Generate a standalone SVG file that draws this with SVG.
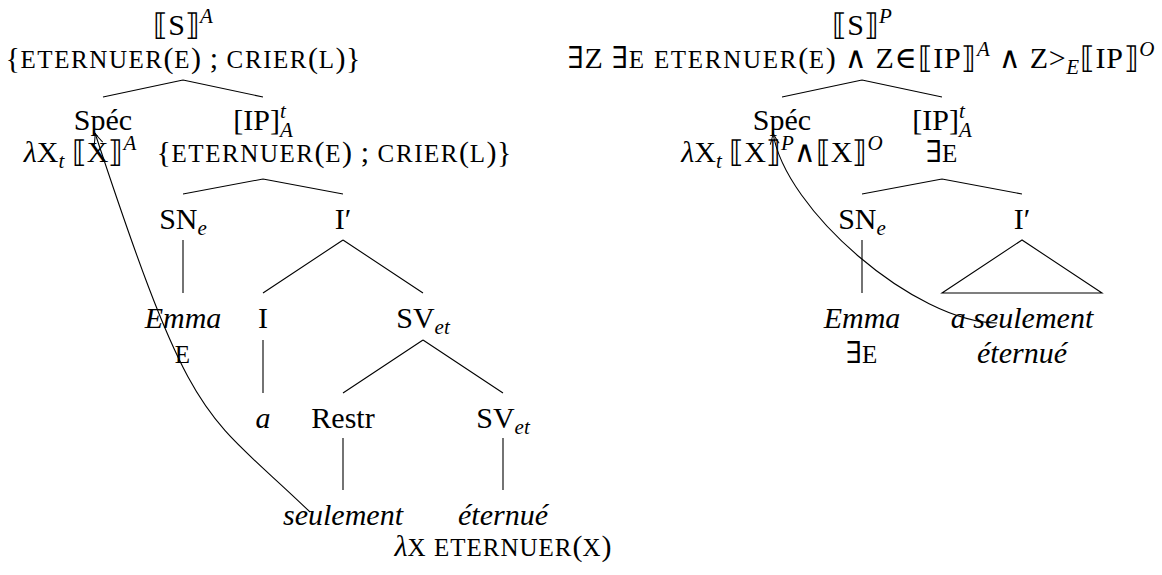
<svg xmlns="http://www.w3.org/2000/svg" width="1162" height="575" viewBox="0 0 1162 575">
<style>
text { font-family: "Liberation Serif", "DejaVu Serif", serif; font-size: 30px; fill: #000; text-anchor: middle; }
.i { font-style: italic; }
.sc { font-size: 25px; letter-spacing: 1px; }
.s { font-size: 21px; font-style: italic; letter-spacing: 0; }
.e { stroke: #000; stroke-width: 1.1; fill: none; }
.mv { stroke: #000; stroke-width: 1.1; fill: none; marker-end: url(#tip); }
</style>
<defs>
<marker id="tip" viewBox="-12 -6 14 12" refX="0" refY="0" markerWidth="14" markerHeight="12" markerUnits="userSpaceOnUse" orient="auto">
<path d="M-11,-4.5 Q-4,-1 0,0 Q-4,1 -11,4.5" fill="none" stroke="#000" stroke-width="1"/>
</marker>
</defs>

<g id="connectors">
<!-- left tree -->
<path class="e" d="M183,80 L103,97 M183,80 L263,97"/>
<path class="e" d="M263,179 L183,194 M263,179 L343,194"/>
<path class="e" d="M183,240 L183,293"/>
<path class="e" d="M343,240 L263,293 M343,240 L423,293"/>
<path class="e" d="M263,340 L263,393"/>
<path class="e" d="M423,340 L343,393 M423,340 L503,393"/>
<path class="e" d="M343,438 L343,490"/>
<path class="e" d="M503,438 L503,490"/>
<path class="mv" d="M310,512 C202,408 194,433 95,133"/>
<!-- right tree -->
<path class="e" d="M862,80 L782,97 M862,80 L942,97"/>
<path class="e" d="M942,179 L862,194 M942,179 L1022,194"/>
<path class="e" d="M862,240 L862,293"/>
<path class="e" d="M1022,240 L942,293 L1102,293 Z"/>
<path class="mv" d="M997,323 C915,322 785,210 773,133"/>
</g>

<!-- left tree nodes -->
<g id="L-S">
<text x="183" y="35">⟦S⟧<tspan class="s" dy="-12">A</tspan></text>
<text x="183" y="68" textLength="355" lengthAdjust="spacing">{<tspan class="sc">ETERNUER</tspan>(<tspan class="sc">E</tspan>) ; <tspan class="sc">CRIER</tspan>(<tspan class="sc">L</tspan>)}</text>
</g>
<g id="L-Spec">
<text x="103" y="130">Spéc</text>
<text x="80" y="162"><tspan class="i">λ</tspan>X<tspan class="s" dy="6">t</tspan><tspan dy="-6"> ⟦X⟧</tspan><tspan class="s" dy="-12">A</tspan></text>
</g>
<g id="L-IP">
<text x="263" y="130">[IP]<tspan class="s" dy="-12">t</tspan><tspan class="s" dx="-5.8" dy="19">A</tspan></text>
<text x="334" y="162" textLength="355" lengthAdjust="spacing">{<tspan class="sc">ETERNUER</tspan>(<tspan class="sc">E</tspan>) ; <tspan class="sc">CRIER</tspan>(<tspan class="sc">L</tspan>)}</text>
</g>
<g id="L-SN">
<text x="183" y="229">SN<tspan class="s" dy="6">e</tspan></text>
</g>
<g id="L-Ibar">
<text x="343" y="229">I′</text>
</g>
<g id="L-Emma">
<text class="i" x="183" y="328">Emma</text>
<text class="sc" x="183" y="363">E</text>
</g>
<g id="L-I">
<text x="263" y="328">I</text>
</g>
<g id="L-SVet">
<text x="423" y="328">SV<tspan class="s" dy="6">et</tspan></text>
</g>
<g id="L-a">
<text class="i" x="263" y="428">a</text>
</g>
<g id="L-Restr">
<text x="343" y="428">Restr</text>
</g>
<g id="L-SVet2">
<text x="503" y="428">SV<tspan class="s" dy="6">et</tspan></text>
</g>
<g id="L-seulement">
<text class="i" x="343" y="525">seulement</text>
</g>
<g id="L-eternue">
<text class="i" x="503" y="525">éternué</text>
<text x="503" y="556"><tspan class="i">λ</tspan><tspan class="sc">X</tspan> <tspan class="sc">ETERNUER</tspan>(<tspan class="sc">X</tspan>)</text>
</g>

<!-- right tree nodes -->
<g id="R-S">
<text x="862" y="35">⟦S⟧<tspan class="s" dy="-12">P</tspan></text>
<text x="861" y="68" textLength="587" lengthAdjust="spacing">∃Z ∃<tspan class="sc">E</tspan> <tspan class="sc">ETERNUER</tspan>(<tspan class="sc">E</tspan>) ∧ Z∈⟦IP⟧<tspan class="s" dy="-12">A</tspan><tspan dy="12"> ∧ Z&gt;</tspan><tspan class="s" dy="6">E</tspan><tspan dy="-6">⟦IP⟧</tspan><tspan class="s" dy="-12">O</tspan></text>
</g>
<g id="R-Spec">
<text x="782" y="130">Spéc</text>
<text x="782" y="162"><tspan class="i">λ</tspan>X<tspan class="s" dy="6">t</tspan><tspan dy="-6"> ⟦X⟧</tspan><tspan class="s" dy="-12">P</tspan><tspan dy="12">∧⟦X⟧</tspan><tspan class="s" dy="-12">O</tspan></text>
</g>
<g id="R-IP">
<text x="942" y="130">[IP]<tspan class="s" dy="-12">t</tspan><tspan class="s" dx="-5.8" dy="19">A</tspan></text>
<text x="942" y="162">∃<tspan class="sc">E</tspan></text>
</g>
<g id="R-SN">
<text x="862" y="229">SN<tspan class="s" dy="6">e</tspan></text>
</g>
<g id="R-Ibar">
<text x="1022" y="229">I′</text>
</g>
<g id="R-Emma">
<text class="i" x="862" y="328">Emma</text>
<text x="862" y="363">∃<tspan class="sc">E</tspan></text>
</g>
<g id="R-aseulement">
<text class="i" x="1022" y="328">a seulement</text>
<text class="i" x="1022" y="363">éternué</text>
</g>
</svg>
